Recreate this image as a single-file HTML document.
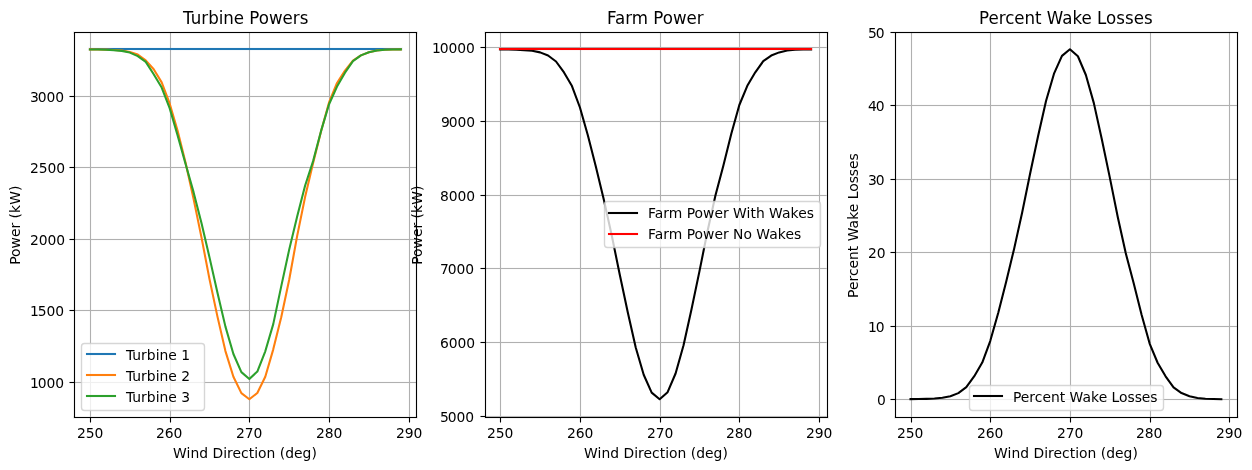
<!DOCTYPE html>
<html lang="en"><head><meta charset="utf-8"><title>Wind direction sweep</title>
<style>html,body{margin:0;padding:0;background:#fff}body{width:1252px;height:470px;overflow:hidden}svg{display:block}text{font-family:"DejaVu Sans","Liberation Sans",sans-serif;fill:#000;white-space:pre}.t10{font-size:13.8889px}.t12{font-size:16.6667px}.sp{stroke:#000;stroke-width:1.111;stroke-linecap:square;fill:none}.tk{stroke:#000;stroke-width:1.111;stroke-linecap:butt;fill:none}.gr{stroke:#b0b0b0;stroke-width:1.111;stroke-linecap:butt;fill:none}.dl{stroke-width:2.083;stroke-linecap:square;stroke-linejoin:round;fill:none}.hg{stroke:#b0b0b0;stroke-width:3;stroke-opacity:.0556;fill:none}.hs{stroke:#000;stroke-width:3;stroke-opacity:.0556;fill:none}.hd{stroke-width:4;stroke-opacity:.0417;fill:none}.lf{fill:#fff;fill-opacity:.8;stroke:#ccc;stroke-opacity:.8;stroke-width:1.389;stroke-linejoin:miter}</style></head><body>
<svg width="1252" height="470" viewBox="0 0 1252 470">
<rect width="1252" height="470" fill="#fff"/>
<g id="ax1">
<clipPath id="c1"><rect x="74.403" y="31.722" width="341.912" height="385"/></clipPath>
<path class="hg" clip-path="url(#c1)" d="M74.5 382.5H416.5M74.5 310.5H416.5M74.5 239.5H416.5M74.5 167.5H416.5M74.5 96.5H416.5"/>
<path class="gr" clip-path="url(#c1)" d="M90.5 32.5V417.5M170.5 32.5V417.5M249.5 32.5V417.5M329.5 32.5V417.5M409.5 32.5V417.5M74.5 382.5H416.5M74.5 310.5H416.5M74.5 239.5H416.5M74.5 167.5H416.5M74.5 96.5H416.5"/>
<path class="hd" clip-path="url(#c1)" stroke="#1f77b4" d="M88 49H403"/>
<path class="dl" clip-path="url(#c1)" stroke="#1f77b4" d="M90 49H401"/>
<path class="dl" clip-path="url(#c1)" stroke="#ff7f0e" d="M89.944 49.394L97.914 49.465L105.884 49.651L113.854 49.98L121.824 50.581L129.794 52.012L137.764 54.515L145.734 60.381L153.704 69.251L161.674 82.412L169.644 103.443L177.614 130.767L185.584 162.813L193.554 198.865L201.524 237.634L209.494 279.122L217.464 316.604L225.434 351.082L233.404 376.69L241.374 393.142L249.344 399.222L257.314 392.999L265.284 376.833L273.254 349.365L281.224 317.176L289.194 279.694L297.163 235.918L305.133 196.862L313.103 162.956L321.073 131.34L329.043 102.441L337.013 82.985L344.983 70.538L352.953 60.567L360.923 55.36L368.893 52.298L376.863 50.51L384.833 49.794L392.803 49.508L400.773 49.365"/>
<path class="dl" clip-path="url(#c1)" stroke="#2ca02c" d="M89.944 49.48L97.914 49.551L105.884 49.794L113.854 50.181L121.824 50.867L129.794 52.584L137.764 56.089L145.734 61.897L153.704 74.258L161.674 87.563L169.644 108.164L177.614 135.345L185.584 163.958L193.554 192.141L201.524 223.185L209.494 257.377L217.464 292.713L225.434 326.619L233.404 354.015L241.374 372.112L249.344 378.936L257.314 371.54L265.284 351.311L273.254 324.129L281.224 286.39L289.194 249.651L297.163 216.404L305.133 185.531L313.103 161.096L321.073 130.91L329.043 104.301L337.013 86.561L344.983 72.684L352.953 61.139L360.923 55.36L368.893 52.298L376.863 50.51L384.833 49.794L392.803 49.508L400.773 49.365"/>
<path class="hs" d="M74.5 382.5h-5M74.5 310.5h-5M74.5 239.5h-5M74.5 167.5h-5M74.5 96.5h-5M73 32.5H418M73 417.5H418"/>
<path class="tk" d="M90.5 417.5v5M170.5 417.5v5M249.5 417.5v5M329.5 417.5v5M409.5 417.5v5M74.5 382.5h-5M74.5 310.5h-5M74.5 239.5h-5M74.5 167.5h-5M74.5 96.5h-5"/>
<path class="sp" d="M74.5 32.5V417.5M416.5 32.5V417.5M74.5 417.5H416.5M74.5 32.5H416.5"/>
<path class="lf" d="M84.5 343.5H201.5Q204.5 343.5 204.5 346.5V407.5Q204.5 410.5 201.5 410.5H84.5Q81.5 410.5 81.5 407.5V346.5Q81.5 343.5 84.5 343.5Z"/>
<path class="dl" stroke="#1f77b4" d="M87 354H115"/>
<path class="dl" stroke="#ff7f0e" d="M87 375H115"/>
<path class="dl" stroke="#2ca02c" d="M87 396H115"/>
</g>
<g id="ax2">
<clipPath id="c2"><rect x="484.697" y="31.722" width="341.912" height="385"/></clipPath>
<path class="hg" clip-path="url(#c2)" d="M485.5 416.5H827.5M485.5 342.5H827.5M485.5 268.5H827.5M485.5 195.5H827.5M485.5 121.5H827.5M485.5 47.5H827.5"/>
<path class="gr" clip-path="url(#c2)" d="M500.5 32.5V417.5M580.5 32.5V417.5M660.5 32.5V417.5M739.5 32.5V417.5M819.5 32.5V417.5M485.5 416.5H827.5M485.5 342.5H827.5M485.5 268.5H827.5M485.5 195.5H827.5M485.5 121.5H827.5M485.5 47.5H827.5"/>
<path class="dl" clip-path="url(#c2)" stroke="#000000" d="M500.238 49.443L508.208 49.517L516.178 49.738L524.148 50.106L532.118 50.769L540.088 52.39L548.058 55.484L556.028 61.495L563.998 72.427L571.968 86.055L579.938 107.492L587.908 135.558L595.878 166.793L603.848 199.868L611.818 235.817L619.788 274.786L627.758 312.282L635.728 347.494L643.698 374.787L651.668 392.578L659.638 399.222L667.608 392.209L675.578 373.469L683.548 345.328L691.518 309.321L699.488 271.103L707.458 231.441L715.428 195.434L723.398 165.393L731.368 133.569L739.337 104.987L747.307 85.834L755.277 72.28L763.247 61.2L771.217 55.543L779.187 52.39L787.157 50.548L795.127 49.812L803.097 49.517L811.067 49.37"/>
<path class="hd" clip-path="url(#c2)" stroke="#ff0000" d="M498 49H813"/>
<path class="dl" clip-path="url(#c2)" stroke="#ff0000" d="M500 49H811"/>
<path class="hs" d="M485.5 416.5h-5M485.5 342.5h-5M485.5 268.5h-5M485.5 195.5h-5M485.5 121.5h-5M485.5 47.5h-5M484 32.5H829M484 417.5H829"/>
<path class="tk" d="M500.5 417.5v5M580.5 417.5v5M660.5 417.5v5M739.5 417.5v5M819.5 417.5v5M485.5 416.5h-5M485.5 342.5h-5M485.5 268.5h-5M485.5 195.5h-5M485.5 121.5h-5M485.5 47.5h-5"/>
<path class="sp" d="M485.5 32.5V417.5M827.5 32.5V417.5M485.5 417.5H827.5M485.5 32.5H827.5"/>
<path class="lf" d="M607.5 201.5H817.5Q820.5 201.5 820.5 204.5V244.5Q820.5 247.5 817.5 247.5H607.5Q604.5 247.5 604.5 244.5V204.5Q604.5 201.5 607.5 201.5Z"/>
<path class="dl" stroke="#000000" d="M609 213H637"/>
<path class="dl" stroke="#ff0000" d="M609 234H637"/>
</g>
<g id="ax3">
<clipPath id="c3"><rect x="894.991" y="31.722" width="341.912" height="385"/></clipPath>
<path class="hg" clip-path="url(#c3)" d="M895.5 399.5H1237.5M895.5 326.5H1237.5M895.5 252.5H1237.5M895.5 179.5H1237.5M895.5 105.5H1237.5M895.5 32.5H1237.5"/>
<path class="gr" clip-path="url(#c3)" d="M911.5 32.5V417.5M990.5 32.5V417.5M1070.5 32.5V417.5M1150.5 32.5V417.5M1229.5 32.5V417.5M895.5 399.5H1237.5M895.5 326.5H1237.5M895.5 252.5H1237.5M895.5 179.5H1237.5M895.5 105.5H1237.5M895.5 32.5H1237.5"/>
<path class="dl" clip-path="url(#c3)" stroke="#000000" d="M910.532 399.149L918.502 399.075L926.472 398.854L934.442 398.485L942.412 397.822L950.382 396.201L958.352 393.105L966.322 387.092L974.292 376.155L982.262 362.521L990.232 341.076L998.202 312.997L1006.172 281.75L1014.142 248.66L1022.112 212.696L1030.082 173.711L1038.052 136.199L1046.022 100.972L1053.992 73.667L1061.962 55.87L1069.932 49.222L1077.902 56.238L1085.872 74.987L1093.842 103.139L1101.812 139.162L1109.782 177.395L1117.752 217.074L1125.722 253.097L1133.692 283.15L1141.662 314.987L1149.632 343.581L1157.602 362.742L1165.572 376.303L1173.542 387.387L1181.511 393.046L1189.481 396.201L1197.451 398.043L1205.421 398.78L1213.391 399.075L1221.361 399.222"/>
<path class="hs" d="M895.5 399.5h-5M895.5 326.5h-5M895.5 252.5h-5M895.5 179.5h-5M895.5 105.5h-5M895.5 32.5h-5M894 32.5H1239M894 417.5H1239"/>
<path class="tk" d="M911.5 417.5v5M990.5 417.5v5M1070.5 417.5v5M1150.5 417.5v5M1229.5 417.5v5M895.5 399.5h-5M895.5 326.5h-5M895.5 252.5h-5M895.5 179.5h-5M895.5 105.5h-5M895.5 32.5h-5"/>
<path class="sp" d="M895.5 32.5V417.5M1237.5 32.5V417.5M895.5 417.5H1237.5M895.5 32.5H1237.5"/>
<path class="lf" d="M972.5 385.5H1160.5Q1163.5 385.5 1163.5 388.5V407.5Q1163.5 410.5 1160.5 410.5H972.5Q969.5 410.5 969.5 407.5V388.5Q969.5 385.5 972.5 385.5Z"/>
<path class="dl" stroke="#000000" d="M974 396H1002"/>
</g>
<g id="labels" style="will-change:transform;filter:grayscale(1)">
<text class="t10" x="76.875 85.625 94.375" y="437.944">250</text>
<text class="t10" x="155.875 164.625 173.5" y="437.944">260</text>
<text class="t10" x="235.875 244.625 253.375" y="437.944">270</text>
<text class="t10" x="315.875 324.625 333.5" y="437.944">280</text>
<text class="t10" x="395.875 404.625 413.5" y="437.944">290</text>
<text class="t10" x="29.875 37.75 46.5 55.25" y="387.797">1000</text>
<text class="t10" x="29.875 37.75 46.5 55.25" y="315.767">1500</text>
<text class="t10" x="29.875 38.625 47.375 56.125" y="244.736">2000</text>
<text class="t10" x="29.875 38.625 47.375 56.125" y="172.705">2500</text>
<text class="t10" x="29.875 37.625 46.375 55.125" y="101.674">3000</text>
<text class="t12" transform="translate(0 23.889) scale(1 1.075)" x="183.125 190.875 201.375 208.25 218.75 223.375 233.875 244.125 249.375 258.875 269 282.625 292.875 299.75" y="0">Turbine Powers</text>
<text class="t10" x="173 186.5 190.375 199.125 208 212.375 223.125 227 232.5 241 248.625 254.125 258 266.5 275.25 279.625 285.125 294 302.5 311.375" y="457.5">Wind Direction (deg)</text>
<text class="t10" transform="translate(19.875 264.785) rotate(-90)" x="0 7.875 16.375 27.75 36.25 42 46.375 51.875 60 73.75" y="0">Power (kW)</text>
<text class="t10" x="125.875 132.25 141 146.75 155.625 159.5 168.25 176.75 181.125" y="359.833">Turbine 1</text>
<text class="t10" x="125.875 132.25 141 146.75 155.625 159.5 168.25 176.75 181.125" y="380.778">Turbine 2</text>
<text class="t10" x="125.875 132.25 141 146.75 155.625 159.5 168.25 176.75 181.125" y="401.722">Turbine 3</text>
<text class="t10" x="486.875 495.625 504.375" y="437.944">250</text>
<text class="t10" x="566.875 575.625 584.5" y="437.944">260</text>
<text class="t10" x="646.875 655.625 664.375" y="437.944">270</text>
<text class="t10" x="725.875 734.625 743.5" y="437.944">280</text>
<text class="t10" x="805.875 814.625 823.5" y="437.944">290</text>
<text class="t10" x="439.875 447.625 456.375 465.125" y="421.642">5000</text>
<text class="t10" x="439.875 448.75 457.5 466.25" y="347.977">6000</text>
<text class="t10" x="439.875 447.625 456.375 465.125" y="273.811">7000</text>
<text class="t10" x="439.875 448.75 457.5 466.25" y="200.645">8000</text>
<text class="t10" x="440.875 448.75 457.5 466.25" y="126.98">9000</text>
<text class="t10" x="431.875 439.75 448.5 457.25 466" y="52.814">10000</text>
<text class="t12" transform="translate(0 23.889) scale(1 1.075)" x="607.125 615.125 625.25 631.875 648.125 653.375 662.875 673 686.625 696.875" y="0">Farm Power</text>
<text class="t10" x="584 597.5 601.375 610.125 619 623.375 634.125 638 643.5 652 659.625 665.125 669 677.5 686.25 690.625 696.125 705 713.5 722.375" y="457.5">Wind Direction (deg)</text>
<text class="t10" transform="translate(421.544 264.785) rotate(-90)" x="0 7.875 16.375 27.75 36.25 42 46.375 51.875 60 73.75" y="0">Power (kW)</text>
<text class="t10" x="647.875 654.625 663.25 668.75 682.25 686.625 694.5 703 714.375 722.875 728.625 733 746.5 750.375 755.875 764.625 769 781.875 790.5 798.125 806.625" y="217.75">Farm Power With Wakes</text>
<text class="t10" x="647.875 654.625 663.25 668.75 682.25 686.625 694.5 703 714.375 722.875 728.625 733 743.375 751.875 756.25 769.125 777.75 785.375 793.875" y="238.694">Farm Power No Wakes</text>
<text class="t10" x="896.875 905.625 914.375" y="437.944">250</text>
<text class="t10" x="976.875 985.625 994.5" y="437.944">260</text>
<text class="t10" x="1056.875 1065.625 1074.375" y="437.944">270</text>
<text class="t10" x="1135.875 1144.625 1153.5" y="437.944">280</text>
<text class="t10" x="1215.875 1224.625 1233.5" y="437.944">290</text>
<text class="t10" x="876.875" y="404.87">0</text>
<text class="t10" x="867.875 875.75" y="331.864">10</text>
<text class="t10" x="867.875 876.625" y="257.858">20</text>
<text class="t10" x="867.875 875.625" y="184.852">30</text>
<text class="t10" x="867.875 875.625" y="110.847">40</text>
<text class="t10" x="867.875 875.625" y="37.841">50</text>
<text class="t12" transform="translate(0 23.889) scale(1 1.075)" x="979 988.5 998.75 1005.25 1014.375 1024.625 1035.125 1041.625 1046.875 1062.375 1072.5 1081.625 1091.875 1097.125 1106.125 1116.25 1125 1133.75 1144" y="0">Percent Wake Losses</text>
<text class="t10" x="994 1007.5 1011.375 1020.125 1029 1033.375 1044.125 1048 1053.5 1062 1069.625 1075.125 1079 1087.5 1096.25 1100.625 1106.125 1115 1123.5 1132.375" y="457.5">Wind Direction (deg)</text>
<text class="t10" transform="translate(857.963 297.972) rotate(-90)" x="0 7.875 16.375 21.875 29.5 38 46.75 52.25 56.625 69.5 78.125 85.75 94.25 98.625 106.125 114.625 121.75 128.875 137.375" y="0">Percent Wake Losses</text>
<text class="t10" x="1012.875 1020.75 1029.25 1034.75 1042.375 1050.875 1059.625 1065.125 1069.5 1082.375 1091 1098.625 1107.125 1111.5 1119 1127.5 1134.625 1141.75 1150.25" y="401.722">Percent Wake Losses</text>
</g>
</svg></body></html>
